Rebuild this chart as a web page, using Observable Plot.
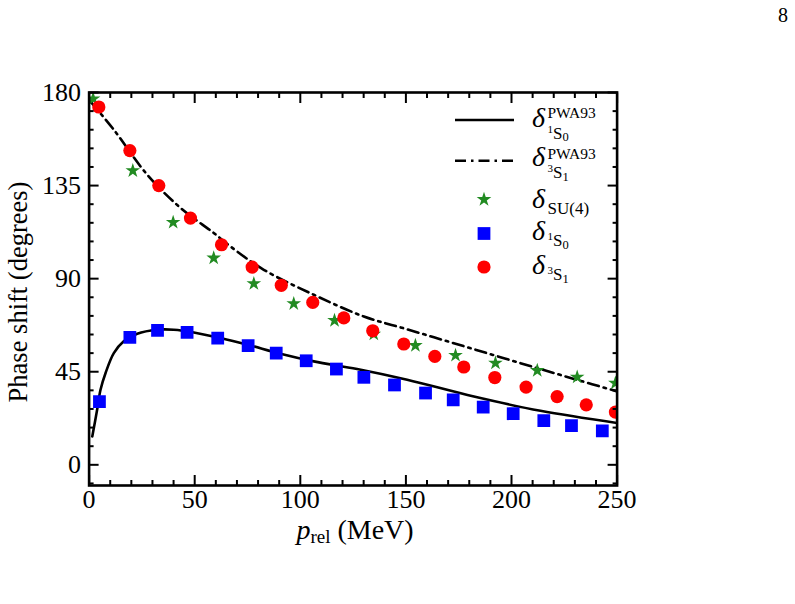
<!DOCTYPE html>
<html><head><meta charset="utf-8">
<script src="https://cdn.jsdelivr.net/npm/d3@7"></script>
<script src="https://cdn.jsdelivr.net/npm/@observablehq/plot@0.6"></script>
<style>
body{margin:0;background:#fff}
#chart{position:relative;width:795px;height:604px}
#chart svg text{font-family:"Liberation Serif", serif}
</style>
</head><body><div id="chart"></div>
<script>
// ---- data ----
const pwa1S0X = [1.5,3.8,5.4,7.8,11.7,16.4,22.8,32.2,40.1,49.6,62.2,74.9,90.6,106.4,126.9,150.6,182.2,213.7,250];
const pwa1S0Y = [13.7,26.6,36.3,44.4,54.0,59.7,63.4,65.3,65.3,64.0,61.3,58.1,53.7,50.0,46.3,41.1,33.0,26.1,20.2];
const pwa3S1X = [0.8,11.7,27.5,43.3,59.0,67.0,82.7,106.4,130.1,150,170,190,210,230,250];
const pwa3S1Y = [175.5,162.0,140.3,124.2,112.1,105.5,94.3,82.2,71.7,65.7,59.6,53.5,47.4,41.4,35.5];
const su4X = [1.9,20.7,39.8,59.0,78.0,96.9,116.2,134.8,154.5,173.5,192.4,212.2,231.1,249.2];
const su4Y = [176.9,142.2,117.2,100.0,87.6,77.9,69.8,63.2,57.7,52.9,49.2,45.6,42.4,39.5];
const s1S0X = [4.9,19.3,32.4,46.4,60.9,75.3,88.6,102.8,117.1,130.1,144.6,159.3,172.4,186.6,200.8,215.3,228.4,243.0];
const s1S0Y = [30.6,61.6,65.0,64.0,61.3,57.6,54.0,50.3,46.3,42.3,38.6,34.7,31.4,27.9,24.7,21.4,18.9,16.4];
const s3S1X = [4.6,19.3,33.0,48.0,62.7,77.2,91.0,105.9,120.6,134.3,149.0,163.7,177.4,192.1,206.9,221.6,235.4,249.2];
const s3S1Y = [173.0,151.9,135.0,119.3,106.4,95.6,86.8,78.5,71.0,64.8,58.4,52.4,47.3,42.2,37.6,33.0,29.0,25.5];
const xMajorTicks = [0,50,100,150,200,250];
const xMinorTicks = [10,20,30,40,60,70,80,90,110,120,130,140,160,170,180,190,210,220,230,240];
const yMajorTicks = [0,45,90,135,180];
const yMinorTicks = [-9,9,18,27,36,54,63,72,81,99,108,117,126,144,153,162,171];
const xDomain = [0,250];
const yDomain = [-10,180];

const zip = (xs, ys) => xs.map((x,i)=>({x, y: ys[i]}));
const pwa1S0 = zip(pwa1S0X, pwa1S0Y);
const pwa3S1 = zip(pwa3S1X, pwa3S1Y);
const su4 = zip(su4X, su4Y);
const s1S0 = zip(s1S0X, s1S0Y);
const s3S1 = zip(s3S1X, s3S1Y);

const FONT = "Liberation Serif, serif";
const DASHDOT = "11,5,2.5,5";
const tickAxis = (anchor, ticks, size, isX) => (isX ? Plot.axisX : Plot.axisY)({
  anchor, ticks, tickSize: size, fill: "none", label: null, stroke: "black", strokeWidth: 2
});

const chart = Plot.plot({
  width: 795, height: 604,
  marginLeft: 88.6, marginRight: 178.4, marginTop: 92, marginBottom: 119,
  x: {domain: xDomain},
  y: {domain: yDomain},
  style: {fontFamily: FONT, background: "white", color: "black", overflow: "visible"},
  marks: [
    Plot.line(pwa1S0, {x: "x", y: "y", curve: "catmull-rom", stroke: "black", strokeWidth: 2.6, clip: true}),
    Plot.line(pwa3S1, {x: "x", y: "y", curve: "catmull-rom", stroke: "black", strokeWidth: 2.6, strokeDasharray: DASHDOT, clip: true}),
    Plot.dot(su4, {x: "x", y: "y", symbol: "star", fill: "#228b22", r: 4.6, clip: true}),
    Plot.dot(s1S0, {x: "x", y: "y", symbol: "square", fill: "#0000ff", r: 7.2, clip: true}),
    Plot.dot(s3S1, {x: "x", y: "y", symbol: "circle", fill: "#ff0000", r: 6.6, clip: true}),
    tickAxis("bottom", xMajorTicks, -10, true),
    tickAxis("bottom", xMinorTicks, -5, true),
    tickAxis("top", xMajorTicks, -10, true),
    tickAxis("top", xMinorTicks, -5, true),
    tickAxis("left", yMajorTicks, -10, false),
    tickAxis("left", yMinorTicks, -5, false),
    tickAxis("right", yMajorTicks, -10, false),
    tickAxis("right", yMinorTicks, -5, false),
    Plot.axisX({anchor: "bottom", ticks: xMajorTicks, tickSize: 0, tickPadding: 4, fontSize: 26, label: null, fill: "black"}),
    Plot.axisY({anchor: "left", ticks: yMajorTicks, tickSize: 0, tickPadding: 8, fontSize: 26, label: null, fill: "black"}),
    Plot.frame({stroke: "black", strokeWidth: 2.6})
  ]
});
document.getElementById("chart").appendChild(chart);

// ---- axis titles, legend, page number ----
const svg = d3.select(chart);
const T = svg.append("g").attr("font-family", FONT).attr("fill", "black");

// y title
T.append("text").attr("transform", "translate(27,292) rotate(-90)")
  .attr("text-anchor", "middle").attr("font-size", 26.5).text("Phase shift (degrees)");

// x title
const xt = T.append("text").attr("x", 355).attr("y", 539).attr("text-anchor", "middle").attr("font-size", 28);
xt.append("tspan").attr("font-style", "italic").text("p");
xt.append("tspan").attr("font-size", 19).attr("dy", 4).text("rel");
xt.append("tspan").attr("dy", -4).text(" (MeV)");

// page number
T.append("text").attr("x", 783).attr("y", 22).attr("text-anchor", "middle").attr("font-size", 20).text("8");

// legend
const L = svg.append("g").attr("font-family", FONT).attr("fill", "black").attr("text-anchor", "start");
const lx0 = 455, lx1 = 514, mx = 484, tx = 532;
L.append("line").attr("x1", lx0).attr("x2", lx1).attr("y1", 120).attr("y2", 120).attr("stroke", "black").attr("stroke-width", 2.6);
L.append("line").attr("x1", lx0).attr("x2", lx1).attr("y1", 160.7).attr("y2", 160.7).attr("stroke", "black").attr("stroke-width", 2.6).attr("stroke-dasharray", DASHDOT);
const sym = (type, r) => d3.symbol(type, Math.PI * r * r)();
L.append("path").attr("transform", `translate(${mx},199.5)`).attr("d", sym(d3.symbolStar, 4.6)).attr("fill", "#228b22");
L.append("path").attr("transform", `translate(${mx},233.5)`).attr("d", sym(d3.symbolSquare, 7.2)).attr("fill", "#0000ff");
L.append("path").attr("transform", `translate(${mx},267)`).attr("d", sym(d3.symbolCircle, 6.6)).attr("fill", "#ff0000");

function legendLabel(base, pre, main, post, sup, supDy, subDy) {
  L.append("text").attr("x", tx).attr("y", base).attr("font-size", 28).attr("font-style", "italic").text("δ");
  const sx = tx + 15.5;
  if (sup) L.append("text").attr("x", sx).attr("y", base + supDy).attr("font-size", 15.5).text(sup);
  const s = L.append("text").attr("x", sx).attr("y", base + subDy).attr("font-size", 17);
  if (pre) s.append("tspan").attr("font-size", 11).attr("dy", -6).text(pre);
  s.append("tspan").attr("dy", pre ? 6 : 0).text(main);
  if (post) s.append("tspan").attr("font-size", 12.5).attr("dy", 2.5).text(post);
}
legendLabel(126.7, "1", "S", "0", "PWA93", -9, 12);
legendLabel(166, "3", "S", "1", "PWA93", -7.5, 12.4);
legendLabel(207.5, null, "SU(4)", null, null, 0, 6);
legendLabel(240, "1", "S", "0", null, 0, 6);
legendLabel(274, "3", "S", "1", null, 0, 6);
</script>
</body></html>
